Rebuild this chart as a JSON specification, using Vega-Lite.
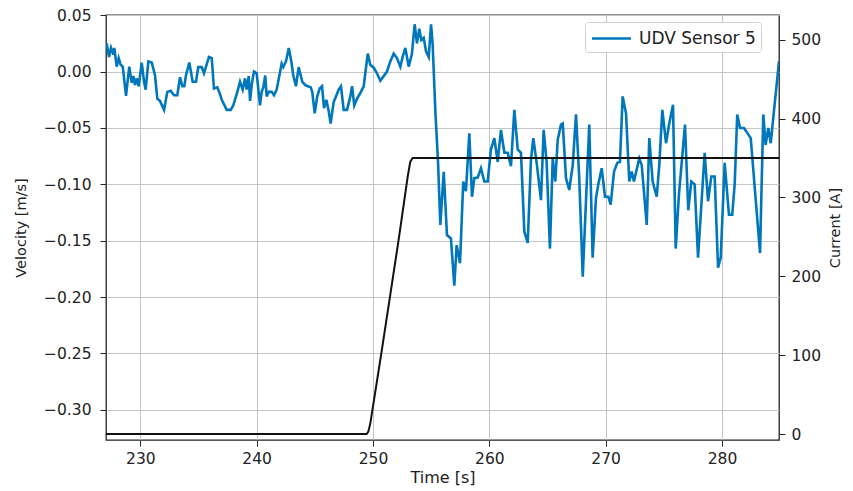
{
  "$schema": "https://vega.github.io/schema/vega-lite/v6.json",
  "width": 673,
  "height": 425,
  "autosize": "none",
  "padding": {"left": 106, "top": 15, "right": 74, "bottom": 51},
  "background": "white",
  "config": {
    "font": "DejaVu Sans",
    "view": {"stroke": "#222", "strokeWidth": 1.3},
    "axis": {
      "labelFont": "DejaVu Sans",
      "titleFont": "DejaVu Sans",
      "labelFontSize": 15.5,
      "titleFontSize": 14.5,
      "labelColor": "#222",
      "titleColor": "#222",
      "titleFontWeight": "normal",
      "tickColor": "#222",
      "tickSize": 6,
      "domain": false,
      "gridColor": "#c4c4c4",
      "gridWidth": 1
    }
  },
  "datasets": {
    "vel": [
      {"t":227.11,"v":0.025},{"t":227.31,"v":0.013},{"t":227.48,"v":0.021},{"t":227.68,"v":0.015},{"t":227.76,"v":0.021},
      {"t":227.97,"v":0.0044},{"t":228.14,"v":0.012},{"t":228.31,"v":0.006},{"t":228.49,"v":0.0044},{"t":228.77,"v":-0.0215},
      {"t":229.05,"v":0.0044},{"t":229.26,"v":-0.010},{"t":229.40,"v":-0.004},{"t":229.54,"v":-0.012},{"t":229.69,"v":-0.006},
      {"t":229.86,"v":-0.013},{"t":230.12,"v":0.008},{"t":230.32,"v":-0.009},{"t":230.46,"v":-0.016},{"t":230.69,"v":0.009},
      {"t":230.98,"v":0.008},{"t":231.26,"v":-0.003},{"t":231.46,"v":-0.024},{"t":231.69,"v":-0.026},{"t":232.04,"v":-0.034},
      {"t":232.32,"v":-0.018},{"t":232.61,"v":-0.017},{"t":232.90,"v":-0.021},{"t":233.18,"v":-0.021},{"t":233.41,"v":-0.005},
      {"t":233.61,"v":-0.013},{"t":233.78,"v":-0.013},{"t":233.93,"v":-0.003},{"t":234.21,"v":0.008},{"t":234.50,"v":-0.009},
      {"t":234.79,"v":-0.009},{"t":234.98,"v":0.004},{"t":235.28,"v":0.004},{"t":235.47,"v":-0.0015},{"t":235.90,"v":0.013},
      {"t":236.14,"v":0.012},{"t":236.33,"v":-0.015},{"t":236.62,"v":-0.014},{"t":236.85,"v":-0.020},{"t":237.00,"v":-0.025},
      {"t":237.43,"v":-0.034},{"t":237.77,"v":-0.034},{"t":237.99,"v":-0.030},{"t":238.34,"v":-0.018},{"t":238.57,"v":-0.009},
      {"t":238.80,"v":-0.016},{"t":239.00,"v":-0.006},{"t":239.14,"v":-0.016},{"t":239.32,"v":-0.004},{"t":239.43,"v":-0.026},
      {"t":239.60,"v":-0.010},{"t":239.77,"v":0.0},{"t":240.00,"v":-0.0015},{"t":240.29,"v":-0.030},{"t":240.43,"v":-0.018},
      {"t":240.57,"v":-0.014},{"t":240.74,"v":-0.0035},{"t":240.86,"v":-0.022},{"t":241.04,"v":-0.018},{"t":241.29,"v":-0.018},
      {"t":241.49,"v":-0.021},{"t":241.72,"v":-0.016},{"t":242.15,"v":0.007},{"t":242.29,"v":0.004},{"t":242.52,"v":0.009},
      {"t":242.76,"v":0.021},{"t":242.98,"v":0.009},{"t":243.15,"v":-0.0035},{"t":243.38,"v":-0.013},{"t":243.61,"v":0.004},
      {"t":243.92,"v":-0.009},{"t":244.18,"v":-0.012},{"t":244.41,"v":-0.013},{"t":244.65,"v":-0.014},{"t":244.78,"v":-0.018},
      {"t":244.99,"v":-0.037},{"t":245.21,"v":-0.022},{"t":245.42,"v":-0.015},{"t":245.62,"v":-0.013},{"t":245.79,"v":-0.0325},
      {"t":245.99,"v":-0.025},{"t":246.19,"v":-0.035},{"t":246.36,"v":-0.046},{"t":246.62,"v":-0.027},{"t":246.82,"v":-0.022},
      {"t":247.05,"v":-0.016},{"t":247.25,"v":-0.013},{"t":247.48,"v":-0.034},{"t":247.77,"v":-0.034},{"t":248.05,"v":-0.022},
      {"t":248.20,"v":-0.013},{"t":248.39,"v":-0.030},{"t":248.63,"v":-0.024},{"t":248.91,"v":-0.019},{"t":249.20,"v":-0.013},
      {"t":249.55,"v":0.016},{"t":249.77,"v":0.006},{"t":250.06,"v":0.0035},{"t":250.34,"v":-0.0015},{"t":250.63,"v":-0.008},
      {"t":250.92,"v":-0.004},{"t":251.20,"v":0.0},{"t":251.49,"v":0.009},{"t":251.78,"v":0.016},{"t":252.06,"v":0.012},
      {"t":252.35,"v":0.0044},{"t":252.55,"v":0.013},{"t":252.78,"v":0.021},{"t":253.07,"v":0.0044},{"t":253.35,"v":0.016},
      {"t":253.58,"v":0.042},{"t":253.78,"v":0.025},{"t":253.98,"v":0.038},{"t":254.15,"v":0.028},{"t":254.36,"v":0.030},
      {"t":254.56,"v":0.018},{"t":254.79,"v":0.013},{"t":254.99,"v":0.042},{"t":255.13,"v":0.024},{"t":255.36,"v":-0.035},
      {"t":255.59,"v":-0.080},{"t":255.79,"v":-0.136},{"t":256.08,"v":-0.089},{"t":256.36,"v":-0.145},{"t":256.70,"v":-0.148},
      {"t":256.99,"v":-0.190},{"t":257.19,"v":-0.154},{"t":257.48,"v":-0.170},{"t":257.76,"v":-0.0975},{"t":257.99,"v":-0.106},
      {"t":258.28,"v":-0.0547},{"t":258.51,"v":-0.111},{"t":258.71,"v":-0.0945},{"t":259.00,"v":-0.094},{"t":259.28,"v":-0.0857},
      {"t":259.57,"v":-0.0975},{"t":259.86,"v":-0.0975},{"t":260.14,"v":-0.069},{"t":260.43,"v":-0.059},{"t":260.72,"v":-0.080},
      {"t":261.00,"v":-0.0517},{"t":261.29,"v":-0.072},{"t":261.58,"v":-0.072},{"t":261.86,"v":-0.084},{"t":262.15,"v":-0.034},
      {"t":262.44,"v":-0.069},{"t":262.72,"v":-0.072},{"t":263.01,"v":-0.142},{"t":263.30,"v":-0.152},{"t":263.58,"v":-0.078},
      {"t":263.78,"v":-0.059},{"t":264.07,"v":-0.081},{"t":264.44,"v":-0.114},{"t":264.67,"v":-0.0517},{"t":264.93,"v":-0.081},
      {"t":265.21,"v":-0.157},{"t":265.45,"v":-0.077},{"t":265.67,"v":-0.0975},{"t":265.88,"v":-0.0605},{"t":266.16,"v":-0.047},
      {"t":266.31,"v":-0.046},{"t":266.59,"v":-0.0945},{"t":266.87,"v":-0.105},{"t":267.17,"v":-0.083},{"t":267.45,"v":-0.038},
      {"t":267.73,"v":-0.0945},{"t":268.03,"v":-0.182},{"t":268.59,"v":-0.047},{"t":268.88,"v":-0.165},{"t":269.17,"v":-0.112},
      {"t":269.37,"v":-0.100},{"t":269.66,"v":-0.0857},{"t":269.94,"v":-0.111},{"t":270.23,"v":-0.111},{"t":270.43,"v":-0.118},
      {"t":270.72,"v":-0.0886},{"t":271.00,"v":-0.081},{"t":271.23,"v":-0.080},{"t":271.46,"v":-0.022},{"t":271.75,"v":-0.037},
      {"t":272.03,"v":-0.0975},{"t":272.24,"v":-0.0886},{"t":272.43,"v":-0.0975},{"t":272.89,"v":-0.077},{"t":273.10,"v":-0.083},
      {"t":273.53,"v":-0.136},{"t":273.75,"v":-0.059},{"t":274.04,"v":-0.0975},{"t":274.39,"v":-0.111},{"t":274.61,"v":-0.083},
      {"t":274.87,"v":-0.034},{"t":275.19,"v":-0.0635},{"t":275.45,"v":-0.047},{"t":275.79,"v":-0.0295},{"t":276.02,"v":-0.157},
      {"t":276.30,"v":-0.109},{"t":276.82,"v":-0.047},{"t":277.10,"v":-0.123},{"t":277.36,"v":-0.0975},{"t":277.65,"v":-0.100},
      {"t":277.94,"v":-0.165},{"t":278.51,"v":-0.072},{"t":278.80,"v":-0.115},{"t":279.08,"v":-0.093},{"t":279.37,"v":-0.093},
      {"t":279.66,"v":-0.174},{"t":279.89,"v":-0.165},{"t":280.23,"v":-0.081},{"t":280.60,"v":-0.127},{"t":280.88,"v":-0.127},
      {"t":281.09,"v":-0.100},{"t":281.31,"v":-0.038},{"t":281.55,"v":-0.050},{"t":281.89,"v":-0.050},{"t":282.47,"v":-0.059},
      {"t":283.27,"v":-0.161},{"t":283.55,"v":-0.038},{"t":283.75,"v":-0.065},{"t":283.98,"v":-0.050},{"t":284.19,"v":-0.0635},
      {"t":284.32,"v":-0.050},{"t":284.90,"v":0.009}
    ],
    "cur": [
      {"t":227.05,"c":0},{"t":249.45,"c":0},{"t":249.6,"c":3},{"t":249.77,"c":13.5},{"t":250.72,"c":102.6},
      {"t":252.2,"c":245.8},{"t":253.0,"c":328},{"t":253.2,"c":345},{"t":253.4,"c":350},{"t":284.9,"c":350}
    ]
  },
  "layer": [
    {
      "data": {"name": "vel"},
      "mark": {"type": "line", "strokeWidth": 2.6, "clip": true},
      "encoding": {
        "x": {"field": "t", "type": "quantitative",
              "scale": {"domain": [227.05, 284.9], "nice": false, "zero": false},
              "axis": {"title": "Time [s]", "titleFontSize": 16, "values": [230, 240, 250, 260, 270, 280], "grid": true, "labelPadding": 5, "titlePadding": 3}},
        "y": {"field": "v", "type": "quantitative",
              "scale": {"domain": [-0.3268, 0.0502], "nice": false, "zero": false},
              "axis": {"title": "Velocity [m/s]", "values": [0.05, 0, -0.05, -0.1, -0.15, -0.2, -0.25, -0.3], "format": ".2f", "grid": true, "labelPadding": 9, "titlePadding": 15}},
        "color": {"datum": "UDV Sensor 5", "type": "nominal",
                  "scale": {"range": ["#0077bb"]},
                  "legend": {
                    "title": null, "orient": "none", "legendX": 479, "legendY": 7,
                    "symbolType": "M-2,0H2", "symbolSize": 380, "symbolStrokeWidth": 2.6,
                    "symbolOffset": 10, "labelOffset": 16,
                    "labelFont": "DejaVu Sans", "labelFontSize": 17, "labelColor": "#222",
                    "padding": 5, "fillColor": "white",
                    "strokeColor": "#d0d0d0", "cornerRadius": 3
                  }}
      }
    },
    {
      "data": {"name": "cur"},
      "mark": {"type": "line", "strokeWidth": 2, "color": "#111", "clip": true},
      "encoding": {
        "x": {"field": "t", "type": "quantitative"},
        "y": {"field": "c", "type": "quantitative",
              "scale": {"domain": [-7.6, 531.4], "nice": false, "zero": false},
              "axis": {"orient": "right", "title": "Current [A]", "titleAngle": 270, "values": [0, 100, 200, 300, 400, 500], "grid": false, "labelPadding": 6, "titlePadding": 22}}
      }
    }
  ],
  "resolve": {"scale": {"y": "independent"}}
}
